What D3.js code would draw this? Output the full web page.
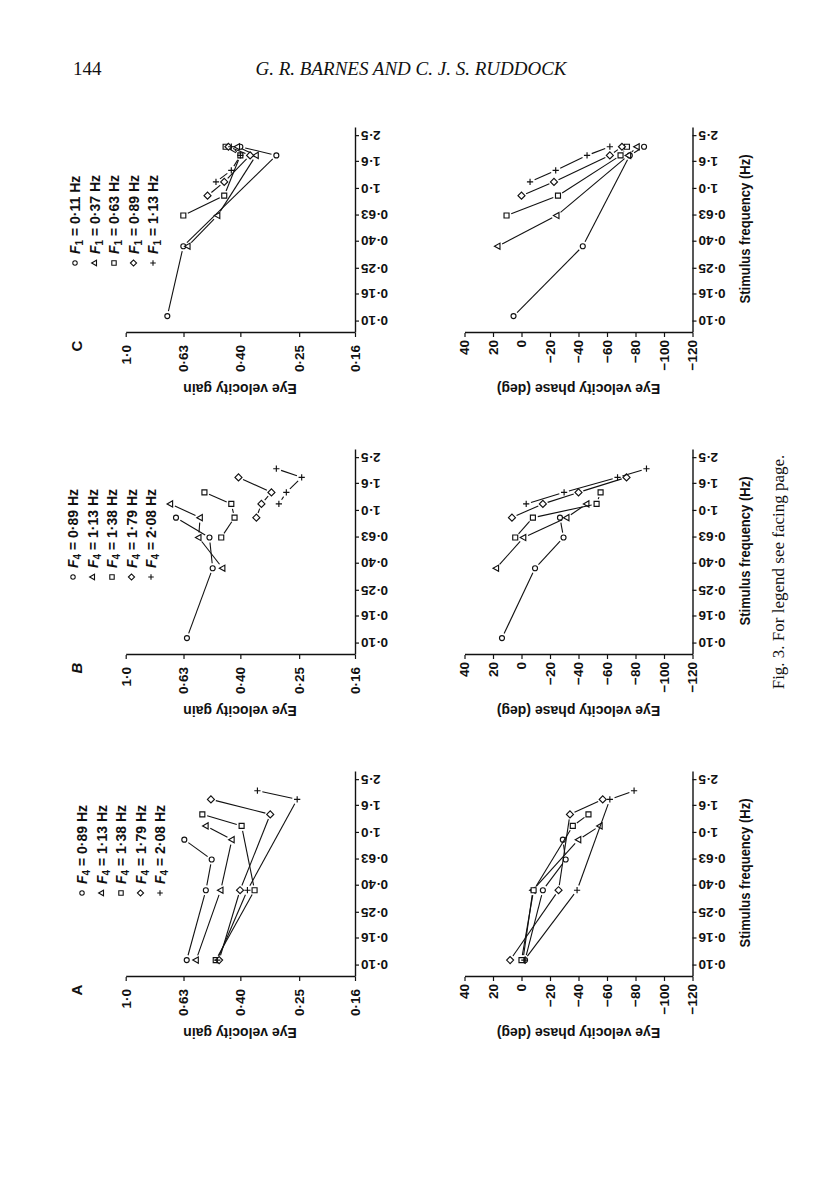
<!DOCTYPE html>
<html>
<head>
<meta charset="utf-8">
<script src="https://cdn.jsdelivr.net/npm/d3@7"></script>
<style>
  body { margin: 0; background: #fff; }
  svg text { fill: #111; }
</style>
</head>
<body>
<div id="chart"></div>
<script>
// ---- tick labels ----
var freqTicks = [0.10, 0.16, 0.25, 0.40, 0.63, 1.0, 1.6, 2.5];
var freqTickLabels = ["0·10", "0·16", "0·25", "0·40", "0·63", "1·0", "1·6", "2·5"];
var gainTicks = [1.0, 0.63, 0.40, 0.25, 0.16];
var gainTickLabels = ["1·0", "0·63", "0·40", "0·25", "0·16"];
var phaseTicks = [40, 20, 0, -20, -40, -60, -80, -100, -120];

// ---- legends ----
var panelLetters = ["A", "B", "C"];
var legendSub = ["4", "4", "1"];
var legendFreqA = ["0·89", "1·13", "1·38", "1·79", "2·08"];
var legendFreqB = ["0·89", "1·13", "1·38", "1·79", "2·08"];
var legendFreqC = ["0·11", "0·37", "0·63", "0·89", "1·13"];
var markerShapes = ["circle", "triangle", "square", "diamond", "plus"];

// ---- panel A (F4 varied) ----
var freqA = [[0.11, 0.37, 0.63, 0.89], [0.11, 0.37, 0.89, 1.13], [0.11, 0.37, 1.13, 1.38],
             [0.11, 0.37, 1.38, 1.79], [0.11, 0.37, 1.79, 2.08]];
var gainA = [[0.614, 0.527, 0.503, 0.626], [0.570, 0.468, 0.428, 0.527], [0.487, 0.357, 0.396, 0.542],
             [0.474, 0.401, 0.315, 0.506], [0.481, 0.378, 0.254, 0.349]];
var phaseA = [[-2.5, -15, -31, -29], [-1, -8, -40, -55], [0, -8.5, -36, -47],
              [8, -26, -34, -57], [-2, -39, -62, -79]];

// ---- panel B (F4 varied) ----
var freqB = [[0.11, 0.37, 0.63, 0.89], [0.37, 0.63, 0.89, 1.13], [0.63, 0.89, 1.13, 1.38],
             [0.89, 1.13, 1.38, 1.79], [1.13, 1.38, 1.79, 2.08]];
var gainB = [[0.613, 0.499, 0.512, 0.669], [0.461, 0.558, 0.552, 0.700], [0.466, 0.419, 0.430, 0.533],
             [0.352, 0.338, 0.312, 0.406], [0.294, 0.277, 0.245, 0.300]];
var phaseB = [[13.7, -9.5, -29.5, -27], [17.7, -1.4, -31.7, -45.7], [4.4, -8, -52.7, -55.5],
              [6.7, -15, -40, -73.7], [-3.3, -29.9, -67.4, -87.7]];

// ---- panel C (F1 varied) ----
var freqC = [[0.11, 0.37, 1.79, 2.08], [0.37, 0.63, 1.79, 2.08], [0.63, 0.89, 1.79, 2.08],
             [0.89, 1.13, 1.79, 2.08], [1.13, 1.38, 1.79, 2.08]];
var gainC = [[0.717, 0.631, 0.300, 0.400], [0.609, 0.480, 0.353, 0.410], [0.631, 0.455, 0.400, 0.450],
             [0.520, 0.455, 0.370, 0.440], [0.486, 0.430, 0.400, 0.430]];
var phaseC = [[5.6, -43, -76, -86], [16.7, -24.7, -75, -81], [10.5, -25.6, -69.5, -74],
              [0, -22.8, -62, -70.5], [-6, -24, -46, -62]];

var panels = [
  { letter: panelLetters[0], sub: legendSub[0], legend: legendFreqA, freq: freqA, gain: gainA, phase: phaseA },
  { letter: panelLetters[1], sub: legendSub[1], legend: legendFreqB, freq: freqB, gain: gainB, phase: phaseB },
  { letter: panelLetters[2], sub: legendSub[2], legend: legendFreqC, freq: freqC, gain: gainC, phase: phaseC }
];

var W = 816, H = 1203;
var font = "'Liberation Sans', Arial, Helvetica, sans-serif";
var serif = "'Liberation Serif', 'Times New Roman', serif";

var svg = d3.select("#chart").append("svg")
  .attr("width", W)
  .attr("height", H);

svg.append("rect").attr("width", W).attr("height", H).attr("fill", "#fff");

// running head
svg.append("text")
  .attr("x", 73).attr("y", 75)
  .style("font-family", serif).style("font-size", "19px")
  .text("144");
svg.append("text")
  .attr("x", 411).attr("y", 75)
  .attr("text-anchor", "middle")
  .style("font-family", serif).style("font-size", "19px").style("font-style", "italic")
  .text("G. R. BARNES AND C. J. S. RUDDOCK");

// the figure is printed sideways: draw it upright, then turn it
var fig = svg.append("g").attr("transform", "translate(0," + H + ") rotate(-90)");

function markerPath(shape, s) {
  if (shape === "circle") return "M" + s + ",0A" + s + "," + s + " 0 1,1 " + (-s) + ",0A" + s + "," + s + " 0 1,1 " + s + ",0Z";
  if (shape === "square") return "M" + (-s) + "," + (-s) + "H" + s + "V" + s + "H" + (-s) + "Z";
  if (shape === "triangle") { var h = s * 1.3; return "M0," + (-h) + "L" + (h * 0.95) + "," + (h * 0.7) + "L" + (-h * 0.95) + "," + (h * 0.7) + "Z"; }
  if (shape === "diamond") { var d = s * 1.4; return "M0," + (-d) + "L" + d + ",0L0," + d + "L" + (-d) + ",0Z"; }
  var p = s * 1.25; return "M" + (-p) + ",0H" + p + "M0," + (-p) + "V" + p;
}

var gap = 5;
var ms = 2.5;

function styleAxis(g) {
  g.select(".domain").attr("stroke", "#111").attr("stroke-width", 1.4);
  g.selectAll(".tick line").attr("stroke", "#111").attr("stroke-width", 1.2);
  g.selectAll("text").style("font-family", font).style("font-size", "13.5px").style("font-weight", "bold").attr("fill", "#111");
}

function drawSeries(g, xs, ys, p, valueKey) {
  p.freq.forEach(function(fr, k) {
    var pts = fr.map(function(f, j) { return [xs(f), ys(p[valueKey][k][j])]; });
    for (var j = 0; j < pts.length - 1; j++) {
      var a = pts[j], b = pts[j + 1];
      var dx = b[0] - a[0], dy = b[1] - a[1], len = Math.sqrt(dx * dx + dy * dy);
      if (len <= 2 * gap) continue;
      var ux = dx / len, uy = dy / len;
      g.append("line")
        .attr("x1", a[0] + ux * gap).attr("y1", a[1] + uy * gap)
        .attr("x2", b[0] - ux * gap).attr("y2", b[1] - uy * gap)
        .attr("stroke", "#111").attr("stroke-width", 1.1);
    }
    g.selectAll(null)
      .data(pts)
      .enter()
      .append("path")
      .attr("transform", function(d) { return "translate(" + d[0] + "," + d[1] + ")"; })
      .attr("d", markerPath(markerShapes[k], ms))
      .attr("fill", markerShapes[k] === "plus" ? "none" : "#fff")
      .attr("stroke", "#111")
      .attr("stroke-width", 1.15);
  });
}

var legendPos = [[84, 82], [78, 73], [70, 75]];

panels.forEach(function(p, i) {
  var u0 = 226 + 322 * i;
  var xScale = d3.scaleLog().domain([0.082, 2.88]).range([u0, u0 + 205]);
  var gainScale = d3.scaleLog().domain([1.0, 0.16]).range([125.7, 355]);
  var phaseScale = d3.scaleLinear().domain([40, -120]).range([464.5, 692.5]);

  // frequency axes (gain and phase rows)
  [355, 692.5].forEach(function(v) {
    var ax = fig.append("g")
      .attr("transform", "translate(0," + v + ")")
      .call(d3.axisBottom(xScale).tickValues(freqTicks)
        .tickFormat(function(d, n) { return freqTickLabels[n]; })
        .tickSize(4).tickSizeOuter(0));
    styleAxis(ax);
    ax.selectAll("text")
      .attr("transform", "rotate(-90)")
      .attr("x", -6).attr("y", 0).attr("dy", "0.35em")
      .attr("text-anchor", "end");
  });

  // gain axis
  var ga = fig.append("g")
    .attr("transform", "translate(" + u0 + ",0)")
    .call(d3.axisLeft(gainScale).tickValues(gainTicks)
      .tickFormat(function(d, n) { return gainTickLabels[n]; })
      .tickSize(4).tickSizeOuter(0).tickPadding(8));
  styleAxis(ga);

  // phase axis
  var pa = fig.append("g")
    .attr("transform", "translate(" + u0 + ",0)")
    .call(d3.axisLeft(phaseScale).tickValues(phaseTicks)
      .tickFormat(function(d) { return d < 0 ? "\u2212" + Math.abs(d) : d; })
      .tickSize(4).tickSizeOuter(0).tickPadding(3));
  styleAxis(pa);

  // axis titles
  fig.append("text")
    .attr("transform", "translate(" + (u0 - 56) + "," + 240 + ") rotate(-90)")
    .attr("text-anchor", "middle").attr("dy", "0.35em")
    .style("font-family", font).style("font-size", "14px").style("font-weight", "bold")
    .text("Eye velocity gain");
  fig.append("text")
    .attr("transform", "translate(" + (u0 - 56) + "," + 578.5 + ") rotate(-90)")
    .attr("text-anchor", "middle").attr("dy", "0.35em")
    .style("font-family", font).style("font-size", "14px").style("font-weight", "bold")
    .text("Eye velocity phase (deg)");
  fig.append("text")
    .attr("x", u0 + 104).attr("y", 745)
    .attr("text-anchor", "middle").attr("dy", "0.35em")
    .attr("textLength", 149).attr("lengthAdjust", "spacingAndGlyphs")
    .style("font-family", font).style("font-size", "14px").style("font-weight", "bold")
    .text("Stimulus frequency (Hz)");

  // panel letter
  fig.append("text")
    .attr("x", u0 - 13).attr("y", 77)
    .attr("text-anchor", "middle").attr("dy", "0.35em")
    .style("font-family", font).style("font-size", "15px").style("font-weight", "bold")
    .style("font-style", i === 1 ? "italic" : "normal")
    .text(p.letter);

  // legend
  var lp = legendPos[i];
  p.legend.forEach(function(lab, j) {
    var lu = u0 + lp[0], lv = lp[1] + j * 19.5;
    fig.append("path")
      .attr("transform", "translate(" + lu + "," + lv + ")")
      .attr("d", markerPath(markerShapes[j], 2.2))
      .attr("fill", markerShapes[j] === "plus" ? "none" : "#fff")
      .attr("stroke", "#111").attr("stroke-width", 1.1);
    var t = fig.append("text")
      .attr("x", lu + 9).attr("y", lv).attr("dy", "0.36em")
      .style("font-family", font).style("font-size", "14px").style("font-weight", "bold");
    t.append("tspan").style("font-style", "italic").text("F");
    t.append("tspan").attr("dy", 3).style("font-size", "10px").text(p.sub);
    t.append("tspan").attr("dy", -3).text(" = " + lab + " Hz");
  });

  // data
  var gGain = fig.append("g");
  drawSeries(gGain, xScale, gainScale, p, "gain");
  var gPhase = fig.append("g");
  drawSeries(gPhase, xScale, phaseScale, p, "phase");
});

// caption
fig.append("text")
  .attr("x", H - 572).attr("y", 778)
  .attr("text-anchor", "middle").attr("dy", "0.35em")
  .style("font-family", serif).style("font-size", "17px")
  .text("Fig. 3. For legend see facing page.");
</script>
</body>
</html>
